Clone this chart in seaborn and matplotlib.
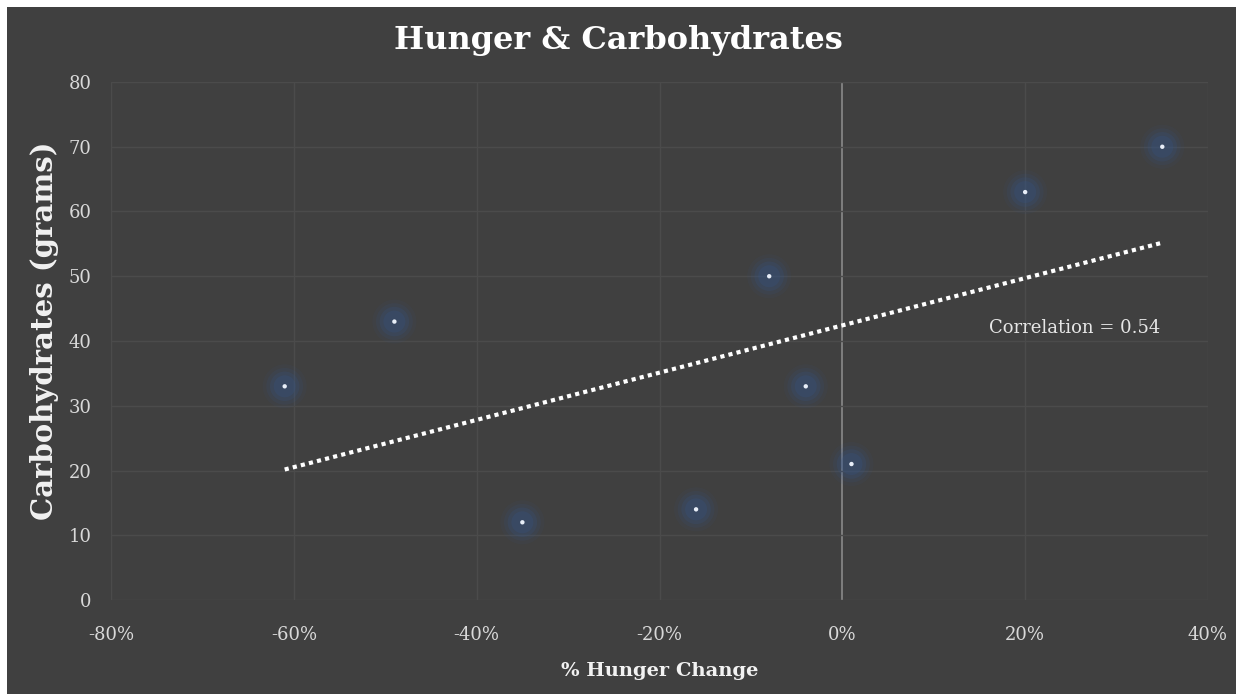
import matplotlib
matplotlib.use("Agg")
import matplotlib.pyplot as plt
import matplotlib.patches as mpatches
import seaborn as sns
import numpy as np
import pandas as pd

hunger_change = [-61, -49, -35, -16, -8, -4, 1, 20, 35]
carbs = [33, 43, 12, 14, 50, 33, 21, 63, 70]
x_ticks = [-80, -60, -40, -20, 0, 20, 40]
x_tick_labels = ["-80%", "-60%", "-40%", "-20%", "0%", "20%", "40%"]
y_ticks = [0, 10, 20, 30, 40, 50, 60, 70, 80]
correlation_label = "Correlation = 0.54"

df = pd.DataFrame({"hunger": hunger_change, "carbs": carbs})

sns.set_style("dark")
plt.rcParams["font.family"] = ["DejaVu Serif"]

BG = "#404040"
fig = plt.figure(figsize=(12.36, 6.94), dpi=100, facecolor=BG)
# thin white border at left and top
fig.patches.append(mpatches.Rectangle((0, 0), 7 / 1236, 1, transform=fig.transFigure,
                                      facecolor="white", edgecolor="none", zorder=-10))
fig.patches.append(mpatches.Rectangle((0, 687 / 694), 1, 7 / 694, transform=fig.transFigure,
                                      facecolor="white", edgecolor="none", zorder=-10))
ax = fig.add_axes([111 / 1236, 94 / 694, 1097 / 1236, 518 / 694])
ax.set_facecolor(BG)

ax.set_xlim(-80, 40)
ax.set_ylim(0, 80)
ax.set_xticks(x_ticks)
ax.set_xticklabels(x_tick_labels)
ax.set_yticks(y_ticks)
for v in x_ticks:
    ax.axvline(v, color="#8a8a8a" if v == 0 else "#4b4b4b", lw=1.2 if v == 0 else 1.0, zorder=1)
for v in y_ticks:
    ax.axhline(v, color="#4b4b4b", lw=1.0, zorder=1)
ax.grid(False)
for s in ax.spines.values():
    s.set_visible(False)

# glow markers
for size, alpha in [(1000, 0.08), (700, 0.12), (450, 0.18), (250, 0.22)]:
    sns.scatterplot(data=df, x="hunger", y="carbs", s=size, color="#34568c", alpha=alpha,
                    edgecolor="none", ax=ax, zorder=3, legend=False)
sns.scatterplot(data=df, x="hunger", y="carbs", s=10, color="#e8eef8", edgecolor="none",
                ax=ax, zorder=4, legend=False)

sns.regplot(data=df, x="hunger", y="carbs", scatter=False, ci=None, truncate=True, ax=ax,
            line_kws=dict(color="white", lw=3, ls=(0, (1, 1)), zorder=5))

ax.text(16, 42, correlation_label, color="#e6e6e6", fontsize=13,
        va="center", ha="left", zorder=6)

ax.tick_params(axis="both", length=0, colors="#d9d9d9", labelsize=13)
ax.tick_params(axis="x", pad=19)
ax.tick_params(axis="y", pad=14)

ax.set_xlabel("% Hunger Change", color="#f2f2f2", fontsize=14, fontweight="bold", labelpad=13)
ax.set_ylabel("Carbohydrates (grams)", color="#f2f2f2", fontsize=21, fontweight="bold")
ax.yaxis.set_label_coords(-0.047, 0.52)
fig.text(0.5, 1 - 40 / 694, "Hunger & Carbohydrates", color="white", fontsize=23,
         fontweight="bold", ha="center", va="center")

fig.savefig("out.png", dpi=100, facecolor=fig.get_facecolor())
